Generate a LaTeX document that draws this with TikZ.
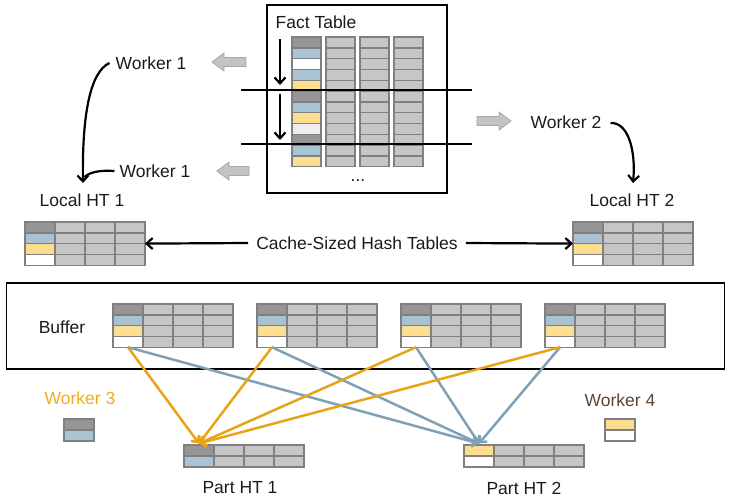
\documentclass[tikz,border=0pt]{standalone}
\usepackage{fontspec}
\setmainfont{Liberation Sans}
\usetikzlibrary{arrows.meta}
\definecolor{dgc}{HTML}{969696}
\definecolor{lgc}{HTML}{C6C6C6}
\definecolor{bluec}{HTML}{A8C4D4}
\definecolor{yelc}{HTML}{FDDD8E}
\definecolor{ltc}{HTML}{EDEDED}
\definecolor{bdr}{HTML}{808080}
\definecolor{orc}{HTML}{E8A317}
\definecolor{blc}{HTML}{7FA0B5}
\definecolor{w3c}{HTML}{F0AC1C}
\definecolor{w4c}{HTML}{5E4436}
\definecolor{txt}{HTML}{1A1A1A}
\definecolor{blkfill}{HTML}{C3C3C3}
\definecolor{blkdraw}{HTML}{A6A6A6}
\newcommand{\mkgrid}[8]{%
  \foreach [count=\r] \c in {#8}{%
    \foreach \k in {1,...,#7}{%
      \ifnum\k=1 \def\fc{\c}\else\def\fc{lgc}\fi
      \node[cell, minimum width=#4pt, minimum height=#6pt, fill=\fc]
        (#1-\r-\k) at ({#2+#4/2+(\k-1)*#5},{#3+(\r-0.5)*#6}) {};
    }}}
\begin{document}
\begin{tikzpicture}[x=1pt,y=-1pt,
  cell/.style={draw=bdr, line width=1.4pt, inner sep=0pt, outer sep=0pt},
  lbl/.style={font=\fontsize{17.5}{20}\selectfont, inner sep=0pt, text=txt},
  blackarr/.style={draw=black, line width=2.2pt, -{Straight Barb[length=6pt,width=11pt]}},
  blackline/.style={draw=black, line width=2.2pt},
  orarr/.style={draw=orc, line width=2.5pt, -{Straight Barb[length=5pt,width=10pt]}},
  blarr/.style={draw=blc, line width=2.5pt, -{Straight Barb[length=5pt,width=10pt]}},
  blockarr/.style={fill=blkfill, draw=blkdraw, line width=0.8pt},
  frame/.style={draw=black, line width=1.8pt}]
\useasboundingbox (0,0) rectangle (731,499);

% Fact table frame
\node[frame, minimum width=180pt, minimum height=188pt, inner sep=0pt] (ftbox) at (357,99) {};
\node[lbl] (ft) at (316,22) {Fact Table};
\mkgrid{f}{292}{37}{29}{34}{10.8}{4}{dgc,bluec,white,bluec,yelc,dgc,bluec,yelc,ltc,dgc,bluec,yelc}
\node[lbl] (dots) at (358,181) {...};

% partition lines
\coordinate (l1a) at (241,90); \coordinate (l1b) at (472,90);
\coordinate (l2a) at (241,144); \coordinate (l2b) at (472,144);
\draw[line width=2.4pt] (l1a) -- (l1b);
\draw[line width=2.4pt] (l2a) -- (l2b);

% scan arrows
\coordinate (s1a) at (280,39); \coordinate (s1b) at (280,85);
\coordinate (s2a) at (280,94); \coordinate (s2b) at (280,140);
\draw[blackarr] (s1a) -- (s1b);
\draw[blackarr] (s2a) -- (s2b);

% workers
\node[lbl] (w1a) at (151,63) {Worker 1};
\node[lbl] (w1b) at (155,171) {Worker 1};
\node[lbl] (w2) at (566,122) {Worker 2};

% block arrows
\draw[blockarr] (212,62) -- (224,53) -- (224,57.5) -- (246,57.5) -- (246,66.5) -- (224,66.5) -- (224,71) -- cycle;
\draw[blockarr] (217,171) -- (229,162) -- (229,166.5) -- (249,166.5) -- (249,175.5) -- (229,175.5) -- (229,180) -- cycle;
\draw[blockarr] (511,121) -- (499,112) -- (499,116.5) -- (477,116.5) -- (477,125.5) -- (499,125.5) -- (499,130) -- cycle;

% local HTs
\node[lbl] (lh1t) at (82,200) {Local HT 1};
\node[lbl] (lh2t) at (632,200) {Local HT 2};
\mkgrid{la}{25}{222}{30}{30}{10.8}{4}{dgc,bluec,yelc,white}
\mkgrid{lb}{573}{222}{30}{30}{10.8}{4}{dgc,bluec,yelc,white}

% curved arrows
\coordinate (c1) at (83,183);
\coordinate (c2) at (633,183);
\draw[blackarr] ([xshift=-6pt]w1a.west) .. controls (90,72) and (82,115) .. (c1);
\draw[blackline] ([xshift=-5pt]w1b.west) .. controls (100,170) and (90,172) .. (84.5,177);
\draw[blackarr] ([xshift=9pt,yshift=-1pt]w2.east) .. controls (628,122) and (636,150) .. (c2);

% cache-sized
\node[lbl] (cache) at (357,243) {Cache-Sized Hash Tables};
\draw[blackarr] ([xshift=-8pt]cache.west) -- (la-2-4.south east);
\draw[blackarr] ([xshift=8pt]cache.east) -- (lb-2-1.south west);

% buffer
\node[frame, minimum width=718pt, minimum height=86pt, inner sep=0pt] (bufbox) at (365.5,326) {};
\node[lbl] (buf) at (62,327) {Buffer};
\mkgrid{b1}{113}{304}{30}{30}{10.8}{4}{dgc,bluec,yelc,white}
\mkgrid{b2}{257}{304}{30}{30}{10.8}{4}{dgc,bluec,yelc,white}
\mkgrid{b3}{401}{304}{30}{30}{10.8}{4}{dgc,bluec,yelc,white}
\mkgrid{b4}{545}{304}{30}{30}{10.8}{4}{dgc,bluec,yelc,white}

% workers 3 and 4
\node[lbl, text=w3c] (w3) at (80,398) {Worker 3};
\node[lbl, text=w4c] (w4) at (620,400) {Worker 4};
\mkgrid{wa}{64}{419}{30}{30}{11}{1}{dgc,bluec}
\mkgrid{wb}{605}{419}{30}{30}{11}{1}{yelc,white}

% part HTs
\mkgrid{p1}{184}{445}{30}{30}{11}{4}{dgc,bluec}
\mkgrid{p2}{464}{445}{30}{30}{11}{4}{yelc,white}
\node[lbl] (p1t) at (240,488) {Part HT 1};
\node[lbl] (p2t) at (524,488) {Part HT 2};

% routing arrows
\foreach \t in {b1,b2,b3,b4}{
  \draw[blarr] (\t-4-1.south) -- ([yshift=1.5pt]p2-1-1.north);
}
\foreach \t in {b1,b2,b3,b4}{
  \draw[orarr] (\t-4-1.south) -- ([yshift=1.5pt]p1-1-1.north);
}
\end{tikzpicture}
\end{document}
